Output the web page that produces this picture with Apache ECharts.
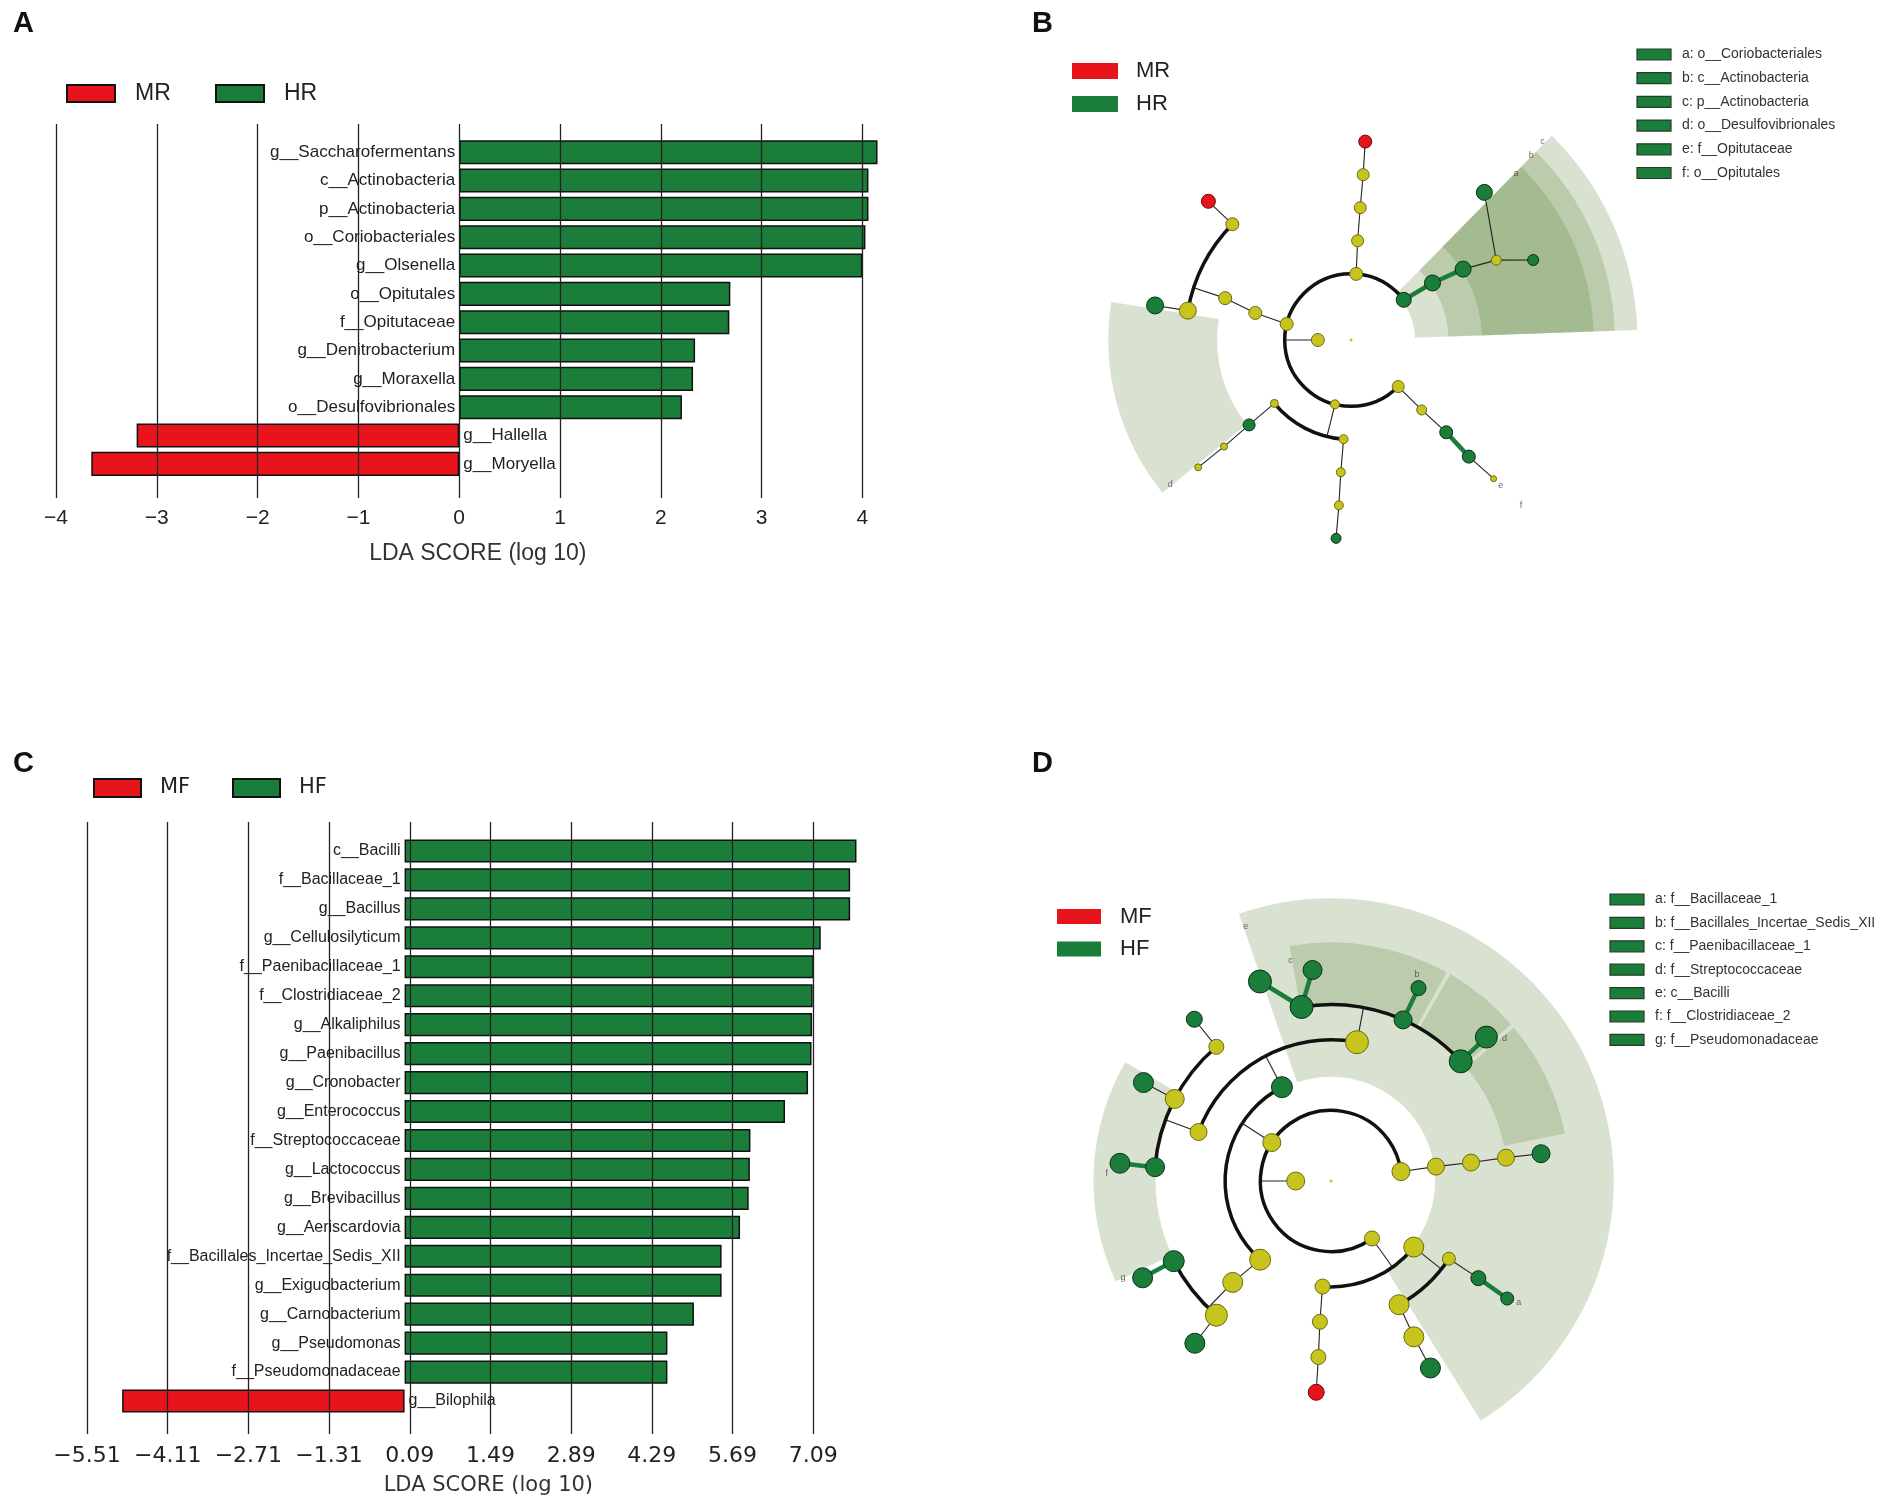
<!DOCTYPE html>
<html>
<head>
<meta charset="utf-8">
<script src="https://cdn.jsdelivr.net/npm/echarts@6/dist/echarts.min.js"></script>
<style>
html,body{margin:0;padding:0;background:#fff}
#main{width:1901px;height:1501px}
</style>
</head>
<body>
<div id="main"></div>
<script>
// ---------- panel A : LDA scores MR vs HR
var aNames = ['g__Saccharofermentans','c__Actinobacteria','p__Actinobacteria','o__Coriobacteriales',
    'g__Olsenella','o__Opitutales','f__Opitutaceae','g__Denitrobacterium','g__Moraxella',
    'o__Desulfovibrionales','g__Hallella','g__Moryella'];
var aScores = [4.15,4.06,4.06,4.03,4.00,2.69,2.68,2.34,2.32,2.21,-3.20,-3.65];
var aTicks = [-4,-3,-2,-1,0,1,2,3,4];

// ---------- panel C : LDA scores MF vs HF
var cNames = ['c__Bacilli','f__Bacillaceae_1','g__Bacillus','g__Cellulosilyticum','f__Paenibacillaceae_1',
    'f__Clostridiaceae_2','g__Alkaliphilus','g__Paenibacillus','g__Cronobacter','g__Enterococcus',
    'f__Streptococcaceae','g__Lactococcus','g__Brevibacillus','g__Aeriscardovia',
    'f__Bacillales_Incertae_Sedis_XII','g__Exiguobacterium','g__Carnobacterium','g__Pseudomonas',
    'f__Pseudomonadaceae','g__Bilophila'];
var cScores = [7.84,7.73,7.73,7.22,7.10,7.08,7.07,7.06,7.00,6.60,6.00,5.99,5.97,5.82,5.50,5.50,5.02,4.56,4.56,-4.90];
var cTicks = [-5.51,-4.11,-2.71,-1.31,0.09,1.49,2.89,4.29,5.69,7.09];

// ---------- cladograms: [parent, level, angle(deg), group(0 none,1 M,2 H), abundance]
var bNodes = [
    [-1,0,0,0,3],[-1,1,180,0,13],[1,2,37.3,2,15],[1,2,85.5,0,13],[1,2,166,0,13],[1,2,256,0,9],[1,2,315.4,0,12],
    [3,3,86.2,0,12],[7,4,86,0,12],[8,5,85.8,0,12],[9,6,85.9,1,13],
    [4,3,164.2,0,13],[11,4,161.6,0,13],[12,5,135.7,0,13],[12,5,169.8,0,17],[13,6,135.8,1,14],[14,6,170,2,17],
    [5,3,219.6,0,8],[5,3,265.7,0,9],[17,4,219.8,2,12],[19,5,220,0,7],[20,6,219.8,0,7],
    [18,4,265.6,0,9],[22,5,265.8,0,9],[23,6,265.7,2,10],
    [6,3,315.3,0,10],[25,4,315.9,2,13],[26,5,315.3,2,13],[27,6,315.8,0,6],
    [2,3,35,2,16],[29,4,32.3,2,16],[30,5,28.8,0,10],[31,6,47.9,2,16],[31,6,23.7,2,11]
];
// shaded clades: [level from, level to, angle from, angle to]
var bShades = [[1.93,8.64,2,45.5],[2.94,7.96,2,45.5],[3.95,7.32,2,45.5],[4.04,7.32,171,219]];
var bLetters = [['c',8.31,46],['b',7.77,45.6],['a',7.08,45.3],['d',6.99,218.7],['e',6.3,315.8],['f',7.15,315.8]];
var bKey = ['a: o__Coriobacteriales','b: c__Actinobacteria','c: p__Actinobacteria',
    'd: o__Desulfovibrionales','e: f__Opitutaceae','f: o__Opitutales'];

var dNodes = [
    [-1,0,0,0,3],[-1,1,180,0,18],[1,2,7.7,0,18],[1,2,147,0,18],[1,2,305.5,0,15],
    [2,3,7.8,0,17],[5,4,7.5,0,17],[6,5,7.6,0,17],[7,6,7.4,2,18],
    [3,3,117.6,2,21],[3,3,228,0,21],[9,4,79.4,0,23],[9,4,159.7,0,17],
    [11,5,99.6,2,23],[11,5,65.9,2,18],[11,5,42.7,2,23],
    [13,6,109.6,2,23],[13,6,95,2,19],[14,6,65.6,2,15],[15,6,42.8,2,22],
    [12,5,130.5,0,15],[12,5,152.3,0,19],[12,5,175.5,2,19],
    [20,6,130.2,2,16],[21,6,152.3,2,20],[22,6,175.2,2,20],
    [10,4,225.9,0,20],[26,5,207,2,21],[26,5,229.5,0,22],[27,6,207.2,2,20],[28,6,230,2,20],
    [4,3,265.4,0,15],[4,3,321.4,0,20],[31,4,265.5,0,15],[33,5,265.9,0,15],[34,6,266,1,16],
    [32,4,326.6,0,13],[32,4,298.8,0,20],[36,5,326.6,2,15],[38,6,326.3,2,13],[37,5,298,0,20],[40,6,298,2,20]
];
var dShades = [[2.95,8.01,302,469],[5.0,6.76,61,100],[5.0,6.76,41,60],[5.0,6.76,11.5,40],[4.97,6.73,150,205]];
var dLetters = [['e',7.61,108.5],['c',6.34,100.4],['b',6.34,67.4],['d',6.36,39.4],['a',6.34,327],['f',6.36,178],['g',6.5,205]];
var dKey = ['a: f__Bacillaceae_1','b: f__Bacillales_Incertae_Sedis_XII','c: f__Paenibacillaceae_1',
    'd: f__Streptococcaceae','e: c__Bacilli','f: f__Clostridiaceae_2','g: f__Pseudomonadaceae'];

var RED = '#e8141c', GREEN = '#1a7d3a', YELLOW = '#c8c41e';
var nodeFill = [YELLOW, RED, GREEN];
var nodeLine = ['#6b6b12', '#6a0a0a', '#0a3018'];
var SANS = 'Liberation Sans', DEJA = 'DejaVu Sans';

var chart = echarts.init(document.getElementById('main'));

function minusFmt(v) { return v < 0 ? '\u2212' + Math.abs(v) : String(v); }
function minusFmt2(v) { return (v < 0 ? '\u2212' : '') + Math.abs(v).toFixed(2); }

function barSeries(names, scores, xi, yi, fontSize, width) {
    var lab = {show: true, formatter: '{b}', fontSize: fontSize, fontFamily: SANS, color: '#222', distance: 4};
    return [{
        type: 'bar', name: 'H', xAxisIndex: xi, yAxisIndex: yi, barWidth: width, barGap: '-100%',
        data: scores.map(function (v) { return v > 0 ? v : '-'; }),
        itemStyle: {color: GREEN, borderColor: '#111', borderWidth: 1.5},
        label: Object.assign({position: 'left'}, lab)
    }, {
        type: 'bar', name: 'M', xAxisIndex: xi, yAxisIndex: yi, barWidth: width, barGap: '-100%',
        data: scores.map(function (v) { return v < 0 ? v : '-'; }),
        itemStyle: {color: RED, borderColor: '#111', borderWidth: 1.5},
        label: Object.assign({position: 'right'}, lab)
    }];
}

// polar helpers: level -> pixel radius via the axis scale
function unitOf(api) {
    var c = api.coord([0, 0]);
    return {c: c, u: api.coord([1, 0])[0] - c[0]};
}
function rad(a) { return a * Math.PI / 180; }

function cladoSeries(nodes, shades, letters, pi) {
    var maxLevel = 0, kids = {}, edges = [];
    nodes.forEach(function (n, i) {
        maxLevel = Math.max(maxLevel, n[1]);
        if (n[0] >= 0) { (kids[n[0]] = kids[n[0]] || []).push(i); }
    });
    Object.keys(kids).forEach(function (k) {
        var P = nodes[+k], ch = kids[k];
        var lv = nodes[ch[0]][1];
        if (ch.length === 1 || lv === maxLevel) {
            ch.forEach(function (c) {
                var C = nodes[c];
                var hl = (P[3] > 0 && P[3] === C[3]) ? C[3] : 0;
                edges.push([P[1], P[2], C[1], C[2], hl, 0]);
            });
        } else {
            var angs = ch.map(function (c) { return nodes[c][2]; }).concat([P[2]]);
            edges.push([P[1], P[2], lv, P[2], 0, 0]);
            edges.push([lv, Math.min.apply(null, angs), lv, Math.max.apply(null, angs), 0, 1]);
        }
    });
    return [{
        type: 'custom', coordinateSystem: 'polar', polarIndex: pi, z: 1, silent: true,
        data: shades,
        renderItem: function (params, api) {
            var s = unitOf(api);
            return {
                type: 'sector',
                shape: {cx: s.c[0], cy: s.c[1], r0: api.value(0) * s.u, r: api.value(1) * s.u,
                    startAngle: -rad(api.value(3)), endAngle: -rad(api.value(2)), clockwise: true},
                style: {fill: 'rgba(90,130,50,0.23)'}
            };
        }
    }, {
        type: 'custom', coordinateSystem: 'polar', polarIndex: pi, z: 2, silent: true,
        data: edges,
        renderItem: function (params, api) {
            var s = unitOf(api);
            if (api.value(5) === 1) {
                return {
                    type: 'arc',
                    shape: {cx: s.c[0], cy: s.c[1], r: api.value(0) * s.u,
                        startAngle: -rad(api.value(3)), endAngle: -rad(api.value(1)), clockwise: true},
                    style: {stroke: '#111', lineWidth: 3.5, fill: null}
                };
            }
            var p1 = api.coord([api.value(0), api.value(1)]);
            var p2 = api.coord([api.value(2), api.value(3)]);
            var g = api.value(4);
            return {
                type: 'line',
                shape: {x1: p1[0], y1: p1[1], x2: p2[0], y2: p2[1]},
                style: {stroke: g ? nodeFill[g] : '#222', lineWidth: g ? 4.5 : 1.1}
            };
        }
    }, {
        type: 'scatter', coordinateSystem: 'polar', polarIndex: pi, z: 3, silent: true,
        data: nodes.map(function (n) {
            return {
                value: [n[1], n[2]], symbolSize: n[4],
                itemStyle: {color: nodeFill[n[3]], borderColor: nodeLine[n[3]], borderWidth: n[1] ? 1 : 0, opacity: 1}
            };
        })
    }, {
        type: 'scatter', coordinateSystem: 'polar', polarIndex: pi, z: 4, silent: true, symbolSize: 0,
        data: letters.map(function (l) { return {name: l[0], value: [l[1], l[2]]}; }),
        label: {show: true, position: 'inside', formatter: '{b}', fontSize: 9, fontFamily: SANS, color: '#444'}
    }];
}

function hidden(o) {
    return Object.assign({axisLine: {show: false}, axisTick: {show: false}, axisLabel: {show: false}, splitLine: {show: false}}, o);
}

// legends and panel letters
var graphics = [];
function panelLetter(t, x, y) {
    graphics.push({type: 'text', x: x, y: y, style: {text: t, fontSize: 29, fontWeight: 'bold', fontFamily: SANS, fill: '#111'}});
}
panelLetter('A', 13, 9); panelLetter('B', 1032, 9); panelLetter('C', 13, 749); panelLetter('D', 1032, 749);

function boxLegend(items, x, y, dx, w, h, tx, fs, font) {
    items.forEach(function (it, i) {
        graphics.push({type: 'rect', shape: {x: x + i * dx, y: y, width: w, height: h},
            style: {fill: it[1], stroke: '#111', lineWidth: 2}});
        graphics.push({type: 'text', x: x + i * dx + tx, y: y + h / 2,
            style: {text: it[0], fontSize: fs, fontFamily: font, fill: '#222', verticalAlign: 'middle'}});
    });
}
boxLegend([['MR', RED], ['HR', GREEN]], 67, 85, 149, 48, 17, 68, 23, SANS);
boxLegend([['MF', RED], ['HF', GREEN]], 94, 779, 139, 47, 18, 66, 21, DEJA);

function barLegend(items, x, y, dy, w, h, tx, fs) {
    items.forEach(function (it, i) {
        graphics.push({type: 'rect', shape: {x: x, y: y + i * dy, width: w, height: h}, style: {fill: it[1]}});
        graphics.push({type: 'text', x: x + tx, y: y + i * dy + h / 2,
            style: {text: it[0], fontSize: fs, fontFamily: SANS, fill: '#222', verticalAlign: 'middle'}});
    });
}
barLegend([['MR', RED], ['HR', GREEN]], 1072, 63, 33, 46, 16, 64, 22);
barLegend([['MF', RED], ['HF', GREEN]], 1057, 909, 32.5, 44, 15, 63, 22);

function keyLegend(keys, x, y, dy) {
    keys.forEach(function (k, i) {
        graphics.push({type: 'rect', shape: {x: x, y: y + i * dy, width: 34, height: 11},
            style: {fill: GREEN, stroke: '#2a3a2a', lineWidth: 1.2}});
        graphics.push({type: 'text', x: x + 45, y: y + i * dy + 5.5,
            style: {text: k, fontSize: 14, fontFamily: SANS, fill: '#333', verticalAlign: 'middle'}});
    });
}
keyLegend(bKey, 1637, 49, 23.7);
keyLegend(dKey, 1610, 894, 23.4);

var option = {
    animation: false,
    backgroundColor: '#fff',
    graphic: graphics,
    grid: [
        {left: 56, top: 124, width: 831.6, height: 374, outerBoundsMode: 'none'},
        {left: 56, top: 138, width: 831.6, height: 340, outerBoundsMode: 'none'},
        {left: 87, top: 822, width: 778.7, height: 612, outerBoundsMode: 'none'},
        {left: 87, top: 836.5, width: 778.7, height: 579, outerBoundsMode: 'none'}
    ],
    xAxis: [
        {gridIndex: 0, type: 'value', min: -4, max: 4.25, z: 5,
            axisLine: {show: false}, axisTick: {show: false, customValues: aTicks},
            axisLabel: {customValues: aTicks, formatter: minusFmt, fontSize: 21, fontFamily: SANS, color: '#222', margin: 10},
            splitLine: {show: true, lineStyle: {color: '#222', width: 1.3}},
            name: 'LDA SCORE (log 10)', nameLocation: 'middle', nameGap: 44,
            nameTextStyle: {fontSize: 23, fontFamily: SANS, color: '#333', padding: [0, 0, 0, 12]}},
        hidden({gridIndex: 1, type: 'value', min: -4, max: 4.25}),
        {gridIndex: 2, type: 'value', min: -5.51, max: 8.0, z: 5,
            axisLine: {show: false}, axisTick: {show: false, customValues: cTicks},
            axisLabel: {customValues: cTicks, formatter: minusFmt2, fontSize: 22, fontFamily: DEJA, color: '#222', margin: 11},
            splitLine: {show: true, lineStyle: {color: '#222', width: 1.3}},
            name: 'LDA SCORE (log 10)', nameLocation: 'middle', nameGap: 41,
            nameTextStyle: {fontSize: 21, fontFamily: DEJA, color: '#333', padding: [0, 0, 0, 24]}},
        hidden({gridIndex: 3, type: 'value', min: -5.51, max: 8.0})
    ],
    yAxis: [
        hidden({gridIndex: 0, type: 'value', min: 0, max: 1}),
        hidden({gridIndex: 1, type: 'category', data: aNames, inverse: true}),
        hidden({gridIndex: 2, type: 'value', min: 0, max: 1}),
        hidden({gridIndex: 3, type: 'category', data: cNames, inverse: true})
    ],
    polar: [
        {center: [1351, 340], radius: 298.4},
        {center: [1331, 1181], radius: 317.7}
    ],
    radiusAxis: [
        hidden({polarIndex: 0, type: 'value', min: 0, max: 9}),
        hidden({polarIndex: 1, type: 'value', min: 0, max: 9})
    ],
    angleAxis: [
        hidden({polarIndex: 0, type: 'value', min: 0, max: 360, startAngle: 0, clockwise: false}),
        hidden({polarIndex: 1, type: 'value', min: 0, max: 360, startAngle: 0, clockwise: false})
    ],
    series: [].concat(
        barSeries(aNames, aScores, 1, 1, 17, '85%'),
        barSeries(cNames, cScores, 3, 3, 16, '80%'),
        cladoSeries(bNodes, bShades, bLetters, 0),
        cladoSeries(dNodes, dShades, dLetters, 1)
    )
};
chart.setOption(option);
</script>
</body>
</html>
